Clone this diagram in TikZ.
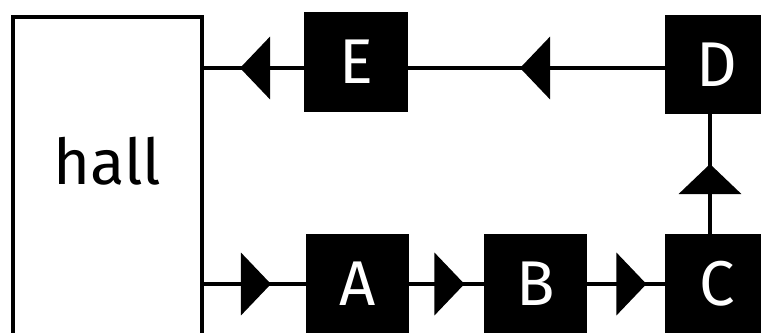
\documentclass[tikz,border=0pt]{standalone}
\usepackage{fontspec}
\setmainfont{Fira Sans}
\usetikzlibrary{arrows.meta,decorations.markings}
\tikzset{
	blk/.style={fill=black,text=white,outer sep=0pt,minimum width=2.08cm,minimum height=2cm,inner sep=0pt,font=\fontsize{36}{40}\selectfont},
	flow/.style={line width=2.3pt,postaction={decorate},decoration={markings,mark=at position #1 with {\arrow{Triangle[length=0.6cm,width=1.24cm]}}}}
}
\begin{document}
\begin{tikzpicture}[x=0.02cm,y=-0.02cm]
	\clip (0,0) rectangle (761,332);
	\useasboundingbox (0,0) rectangle (761,332);
	\node[draw,line width=2.3pt,outer sep=0pt,minimum width=3.78cm,minimum height=6.56cm,label={[yshift=0.4cm,font=\fontsize{36}{40}\selectfont]center:hall}] (hall) at (107.5,181) {};
	\node[blk] (E) at (356,62) {E};
	\node[blk] (D) at (717,64.5) {D};
	\node[blk] (A) at (357.5,284) {A};
	\node[blk] (B) at (535.5,284) {B};
	\node[blk] (C) at (717,284) {C};
	\coordinate (top) at (0,68);
	\draw[flow=1.28cm] (E.west |- top) -- (hall.east |- top);
	\draw[flow=1.38cm] (hall.east |- A) -- (A.west);
	\draw[flow=1.1cm] (A) -- (B);
	\draw[flow=1.18cm] (B) -- (C);
	\draw[flow=1.4cm] ([xshift=-0.14cm]C.north) -- ([xshift=-0.14cm]D.south);
	\draw[flow=2.9cm] (D.west |- top) -- (E.east |- top);
\end{tikzpicture}
\end{document}
